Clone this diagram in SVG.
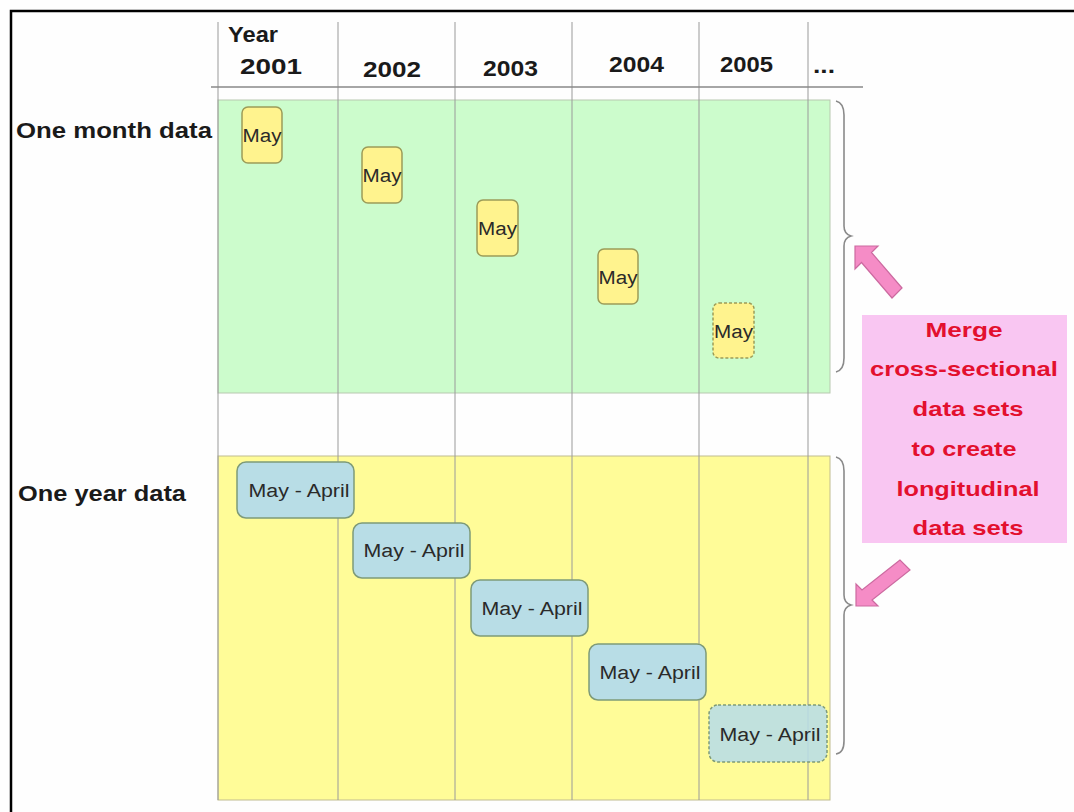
<svg xmlns="http://www.w3.org/2000/svg" width="1074" height="812" viewBox="0 0 1074 812">
<style>
.hdr{font-family:"Liberation Sans",Arial,sans-serif;font-weight:bold;font-size:22px;fill:#1a1a1a}
.lbl{font-family:"Liberation Sans",Arial,sans-serif;font-weight:bold;font-size:22px;fill:#1a1a1a}
.may{fill:#fff38e;stroke:#9c9c58;stroke-width:1.5}
.ma{fill:#b8dde6;stroke:#7e9a78;stroke-width:1.5}
.dash{stroke-dasharray:3 2}
.bt{font-family:"Liberation Sans",Arial,sans-serif;font-size:18px;fill:#2a2a2a;text-anchor:middle}
.red{font-family:"Liberation Sans",Arial,sans-serif;font-weight:bold;font-size:21px;fill:#e3102e;text-anchor:middle}
.vline{stroke:#9a9a9a;stroke-width:1}
.brace{fill:none;stroke:#8a8a8a;stroke-width:1.6}
.arrow{fill:#f58cc6;stroke:#cc6aa0;stroke-width:1.2}
</style>
<rect x="0" y="0" width="1074" height="812" fill="#fefefe"/>
<rect id="frame" x="11" y="11" width="1080" height="820" fill="none" stroke="#000" stroke-width="2.5"/>

<g id="regions">
<rect id="month-region" x="218" y="100" width="612" height="293" fill="#ccfccc" stroke="#b8c8b0" stroke-width="1"/>
<rect id="year-region" x="218" y="456" width="612" height="344" fill="#fffc98" stroke="#c0bc90" stroke-width="1"/>
</g>

<g id="grid">
<line class="vline" x1="218" y1="22" x2="218" y2="800"/>
<line class="vline" x1="338" y1="22" x2="338" y2="800"/>
<line class="vline" x1="455" y1="22" x2="455" y2="800"/>
<line class="vline" x1="572" y1="22" x2="572" y2="800"/>
<line class="vline" x1="699" y1="22" x2="699" y2="800"/>
<line class="vline" x1="808" y1="22" x2="808" y2="800"/>
<line x1="211" y1="87" x2="863" y2="87" stroke="#888" stroke-width="1.5"/>
</g>

<g id="header">
<text class="hdr" x="228" y="42" textLength="50" lengthAdjust="spacingAndGlyphs">Year</text>
<text class="hdr" x="240" y="74" textLength="62" lengthAdjust="spacingAndGlyphs">2001</text>
<text class="hdr" x="363" y="77" textLength="58" lengthAdjust="spacingAndGlyphs">2002</text>
<text class="hdr" x="483" y="76" textLength="55" lengthAdjust="spacingAndGlyphs">2003</text>
<text class="hdr" x="609" y="72" textLength="55" lengthAdjust="spacingAndGlyphs">2004</text>
<text class="hdr" x="720" y="72" textLength="53" lengthAdjust="spacingAndGlyphs">2005</text>
<text class="hdr" x="813" y="73" textLength="22" lengthAdjust="spacingAndGlyphs">...</text>
</g>

<g id="row-labels">
<text class="lbl" x="16" y="138" textLength="196" lengthAdjust="spacingAndGlyphs">One month data</text>
<text class="lbl" x="18" y="501" textLength="168" lengthAdjust="spacingAndGlyphs">One year data</text>
</g>

<g id="may-2001"><rect class="may" x="242" y="107" width="40" height="56" rx="6"/><text class="bt" x="262" y="142" textLength="39" lengthAdjust="spacingAndGlyphs">May</text></g>
<g id="may-2002"><rect class="may" x="362" y="147" width="40" height="56" rx="6"/><text class="bt" x="382" y="182" textLength="39" lengthAdjust="spacingAndGlyphs">May</text></g>
<g id="may-2003"><rect class="may" x="477" y="200" width="41" height="56" rx="6"/><text class="bt" x="497.5" y="235" textLength="39" lengthAdjust="spacingAndGlyphs">May</text></g>
<g id="may-2004"><rect class="may" x="598" y="249" width="40" height="55" rx="6"/><text class="bt" x="618" y="284" textLength="39" lengthAdjust="spacingAndGlyphs">May</text></g>
<g id="may-2005"><rect class="may dash" x="713" y="303" width="41" height="55" rx="6"/><text class="bt" x="733.5" y="338" textLength="39" lengthAdjust="spacingAndGlyphs">May</text></g>

<g id="year-2001"><rect class="ma" x="237" y="462" width="117" height="56" rx="9"/><text class="bt" x="299" y="497" font-size="20" textLength="101" lengthAdjust="spacingAndGlyphs">May - April</text></g>
<g id="year-2002"><rect class="ma" x="353" y="523" width="117" height="55" rx="9"/><text class="bt" x="414" y="557" font-size="20" textLength="101" lengthAdjust="spacingAndGlyphs">May - April</text></g>
<g id="year-2003"><rect class="ma" x="471" y="580" width="117" height="56" rx="9"/><text class="bt" x="532" y="615" font-size="20" textLength="101" lengthAdjust="spacingAndGlyphs">May - April</text></g>
<g id="year-2004"><rect class="ma" x="589" y="644" width="117" height="56" rx="9"/><text class="bt" x="650" y="679" font-size="20" textLength="101" lengthAdjust="spacingAndGlyphs">May - April</text></g>
<g id="year-2005"><rect class="ma dash" x="709" y="705" width="118" height="57" rx="9" fill-opacity="0.88"/><text class="bt" x="770" y="741" font-size="20" textLength="101" lengthAdjust="spacingAndGlyphs">May - April</text></g>

<g id="connectors">
<path class="brace" d="M836,101 Q844,103 844,115 L844,226 Q844,234 851,236 Q844,238 844,246 L844,358 Q844,370 836,372"/>
<path class="brace" d="M836,457 Q844,459 844,471 L844,595 Q844,603 851,605 Q844,607 844,615 L844,741 Q844,753 836,754"/>
<polygon class="arrow" points="902,288 871.5,252.5 878,246 855,246 855,269 861.5,262.5 892,298"/>
<polygon class="arrow" points="900,560 862,590 856,584 856,606 878,606 872,600 910,570"/>
</g>

<g id="merge-note">
<rect x="862" y="315" width="205" height="228" fill="#f9c6f2"/>
<text class="red" x="964" y="337" textLength="77" lengthAdjust="spacingAndGlyphs">Merge</text>
<text class="red" x="964" y="376" textLength="188" lengthAdjust="spacingAndGlyphs">cross-sectional</text>
<text class="red" x="968" y="416" textLength="111" lengthAdjust="spacingAndGlyphs">data sets</text>
<text class="red" x="964" y="456" textLength="105" lengthAdjust="spacingAndGlyphs">to create</text>
<text class="red" x="968" y="496" textLength="143" lengthAdjust="spacingAndGlyphs">longitudinal</text>
<text class="red" x="968" y="535" textLength="111" lengthAdjust="spacingAndGlyphs">data sets</text>
</g>
</svg>
